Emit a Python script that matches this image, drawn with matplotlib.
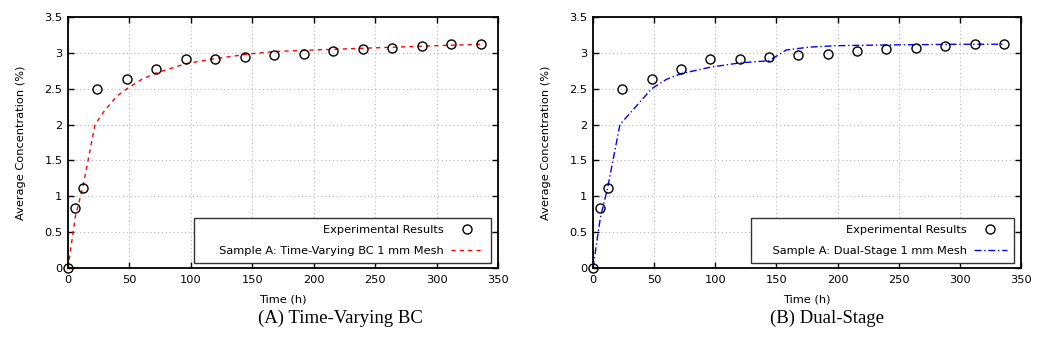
import numpy as np
import matplotlib
matplotlib.use("Agg")
import matplotlib.pyplot as plt

# experimental measurements (shared by both panels)
exp_time = [0, 6, 12, 24, 48, 72, 96, 120, 144, 168, 192, 216, 240, 264, 288, 312, 336]
exp_conc = [0, 0.83, 1.11, 2.49, 2.63, 2.77, 2.91, 2.92, 2.94, 2.97, 2.99, 3.02, 3.05, 3.07, 3.10, 3.13, 3.13]

# simulation: time-varying boundary condition
tv_time = [0, 6, 12, 22, 30, 40, 48, 60, 72, 96, 120, 150, 170, 200, 250, 300, 336]
tv_conc = [0, 0.72, 1.12, 2.0, 2.2, 2.4, 2.5, 2.63, 2.72, 2.85, 2.92, 2.99, 3.02, 3.04, 3.07, 3.10, 3.12]

# simulation: dual-stage model
ds_time = [0, 6, 12, 22, 35, 48, 60, 72, 96, 120, 144, 158, 177, 199, 240, 300, 336]
ds_conc = [0, 0.7, 1.12, 2.0, 2.25, 2.5, 2.63, 2.71, 2.8, 2.86, 2.89, 3.04, 3.08, 3.1, 3.11, 3.12, 3.12]

plt.rcParams['font.family'] = 'DejaVu Sans'

fig = plt.figure(figsize=(10.44, 3.5), dpi=100)
W, H = 1044, 350
FS = 8.2

def make_panel(left, right, sim_t, sim_c, label, color, ls, caption, cap_x):
    ax = fig.add_axes([left / W, 1 - 268 / H, (right - left) / W, (268 - 17) / H])
    ax.plot(exp_time, exp_conc, 'o', mfc='none', mec='black', ms=6.5, mew=1.0,
            label='Experimental Results', zorder=3, clip_on=False)
    ax.plot(sim_t, sim_c, color=color, ls=ls, lw=1.0, label=label, zorder=2)
    ax.set_xlim(0, 350)
    ax.set_ylim(0, 3.5)
    ax.set_xticks(np.arange(0, 351, 50))
    ax.set_yticks(np.arange(0, 3.51, 0.5))
    ax.set_yticklabels(['0', '0.5', '1', '1.5', '2', '2.5', '3', '3.5'])
    ax.tick_params(direction='in', length=4, width=1, labelsize=FS,
                   top=True, right=True)
    ax.tick_params(axis='x', pad=5)
    ax.tick_params(axis='y', pad=4)
    ax.grid(True, color='#b8b8b8', ls=(0, (1, 2.5)), lw=0.8)
    for s in ax.spines.values():
        s.set_linewidth(1.3)
    ax.set_xlabel('Time (h)', fontsize=FS, labelpad=7)
    ax.set_ylabel('Average Concentration (%)', fontsize=FS, labelpad=13)
    leg = ax.legend(loc='lower right', bbox_to_anchor=(0.983, 0.02), markerfirst=False,
                    fancybox=False, framealpha=1, edgecolor='#333333', fontsize=FS,
                    handlelength=2.9, handletextpad=0.6, borderpad=0.6,
                    labelspacing=1.0, borderaxespad=0)
    leg.get_frame().set_linewidth(1.0)
    fig.text(cap_x / W, 1 - 318 / H, caption, ha='center', va='center',
             fontsize=13.5, family='Liberation Serif')
    return ax

make_panel(68, 498, tv_time, tv_conc, '     Sample A: Time-Varying BC 1 mm Mesh',
           'red', (0, (3, 3)), '(A) Time-Varying BC', 340)
make_panel(593, 1021, ds_time, ds_conc, '    Sample A: Dual-Stage 1 mm Mesh',
           'blue', (0, (5, 2, 1, 2)), '(B) Dual-Stage', 827)

plt.savefig('out.png', dpi=100)
